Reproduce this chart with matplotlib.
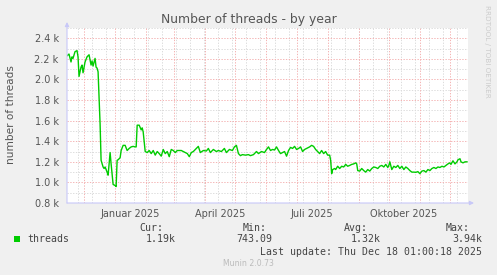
import matplotlib
matplotlib.use("Agg")
import matplotlib.pyplot as plt
import pandas as pd
import numpy as np

# ---------------- data ----------------
start_date = "2024-11-14"
end_date = "2025-12-19"
day_offsets = [0, 2, 4, 5, 6, 8, 10, 11, 12, 14, 15, 16, 18, 20, 22, 24, 25, 26, 28, 29,
               30, 31, 33, 34, 36, 37, 38, 40, 41, 42, 43, 44, 45, 46, 48, 49, 50, 51, 53, 54,
               56, 58, 60, 62, 64, 66, 68, 69, 70, 72, 74, 75, 76, 78, 80, 82, 84, 86, 88, 90,
               92, 94, 96, 98, 100, 102, 104, 106, 108, 110, 112, 114, 116, 118, 120, 122, 124, 126, 128, 131,
               133, 136, 139, 141, 143, 146, 149, 151, 154, 157, 159, 162, 165, 167, 169, 171, 173, 175, 178, 181,
               183, 186, 189, 191, 194, 197, 199, 201, 203, 205, 207, 209, 211, 213, 215, 217, 219, 221, 223, 225,
               227, 229, 231, 233, 235, 237, 239, 242, 244, 246, 248, 250, 252, 254, 256, 258, 260, 262, 263, 264,
               265, 267, 268, 270, 272, 274, 276, 278, 280, 282, 284, 286, 288, 289, 290, 292, 294, 296, 298, 300,
               302, 304, 306, 308, 310, 312, 314, 316, 318, 320, 321, 322, 324, 326, 328, 330, 332, 334, 336, 338,
               340, 342, 344, 346, 348, 350, 352, 354, 356, 358, 360, 362, 364, 366, 368, 370, 372, 374, 376, 378,
               380, 382, 383, 385, 387, 389, 390, 392, 393, 395, 397, 399]
threads_k = [2.23, 2.247, 2.17, 2.22, 2.205, 2.27, 2.28, 2.22, 2.03, 2.12, 2.14, 2.065, 2.17, 2.22, 2.24, 2.14, 2.18, 2.13, 2.205, 2.12,
             2.11, 2.075, 1.57, 1.215, 1.15, 1.135, 1.15, 1.10, 1.07, 1.18, 1.29, 1.18, 1.085, 0.98, 0.97, 0.96, 1.215, 1.22, 1.24, 1.31,
             1.36, 1.36, 1.31, 1.33, 1.345, 1.35, 1.345, 1.345, 1.556, 1.556, 1.51, 1.53, 1.49, 1.30, 1.29, 1.31, 1.28, 1.31, 1.265, 1.30,
             1.28, 1.255, 1.32, 1.28, 1.30, 1.25, 1.32, 1.31, 1.29, 1.31, 1.31, 1.31, 1.30, 1.29, 1.28, 1.25, 1.29, 1.30, 1.32, 1.35,
             1.29, 1.31, 1.305, 1.33, 1.29, 1.32, 1.30, 1.31, 1.30, 1.33, 1.29, 1.32, 1.31, 1.345, 1.36, 1.28, 1.26, 1.27, 1.265, 1.27,
             1.26, 1.27, 1.30, 1.28, 1.30, 1.29, 1.32, 1.345, 1.31, 1.32, 1.315, 1.345, 1.31, 1.28, 1.29, 1.30, 1.255, 1.31, 1.34, 1.33,
             1.35, 1.32, 1.33, 1.345, 1.30, 1.32, 1.33, 1.345, 1.36, 1.35, 1.32, 1.30, 1.28, 1.31, 1.28, 1.30, 1.265, 1.265, 1.215, 1.085,
             1.125, 1.135, 1.125, 1.157, 1.135, 1.157, 1.15, 1.175, 1.157, 1.165, 1.175, 1.18, 1.19, 1.18, 1.115, 1.11, 1.135, 1.115, 1.10, 1.125,
             1.11, 1.135, 1.15, 1.145, 1.135, 1.157, 1.165, 1.15, 1.175, 1.145, 1.165, 1.20, 1.125, 1.157, 1.145, 1.165, 1.135, 1.157, 1.125, 1.15,
             1.135, 1.115, 1.10, 1.10, 1.098, 1.105, 1.085, 1.11, 1.115, 1.10, 1.125, 1.115, 1.135, 1.145, 1.135, 1.15, 1.145, 1.157, 1.15, 1.165,
             1.18, 1.19, 1.175, 1.21, 1.18, 1.20, 1.22, 1.23, 1.20, 1.19, 1.20, 1.20]
xtick_dates = ["2025-01-16", "2025-04-16", "2025-07-16", "2025-10-16"]
xtick_labels = ["Januar 2025", "April 2025", "Juli 2025", "Oktober 2025"]
ytick_values = [0.8, 1.0, 1.2, 1.4, 1.6, 1.8, 2.0, 2.2, 2.4]
ytick_labels = ["0.8 k", "1.0 k", "1.2 k", "1.4 k", "1.6 k", "1.8 k", "2.0 k", "2.2 k", "2.4 k"]
title = "Number of threads - by year"
ylabel = "number of threads"
legend_name = "threads"
stat_names = ["Cur:", "Min:", "Avg:", "Max:"]
stat_values = ["1.19k", "743.09", "1.32k", "3.94k"]
last_update = "Last update: Thu Dec 18 01:00:18 2025"
footer = "Munin 2.0.73"
side_text = "RRDTOOL / TOBI OETIKER"

# ---------------- figure ----------------
W, H = 497, 275
fig = plt.figure(figsize=(W / 100, H / 100), dpi=100, facecolor="#f0f0f0")

def fx(px):
    return px / W

def fy(py):
    return 1 - py / H

L, R, T, B = 67, 468, 28, 203
ax = fig.add_axes([fx(L), fy(B), fx(R - L), (B - T) / H], facecolor="white")

dates = pd.Timestamp(start_date) + pd.to_timedelta(day_offsets, unit="D")
ax.set_xlim(pd.Timestamp(start_date), pd.Timestamp(end_date))
ax.set_ylim(0.8, 2.5)

minor_col = "#dcdcdc"
major_col = "#f4b4b4"
dot = (0, (1.3, 1.5))

for v in np.arange(0.9, 2.51, 0.2):
    ax.axhline(v, color=minor_col, lw=0.72, ls=dot, zorder=1)
for v in ytick_values:
    ax.axhline(v, color=major_col, lw=0.72, ls=dot, zorder=1.5)
for d in pd.date_range("2024-11-25", end_date, freq="14D"):
    ax.axvline(d, color=minor_col, lw=0.72, ls=dot, zorder=1)
for d in pd.date_range("2024-12-01", end_date, freq="MS"):
    ax.axvline(d, color=major_col, lw=0.72, ls=dot, zorder=1.5)

ax.plot(dates, threads_k, color="#00cc00", lw=1.0, zorder=3, solid_joinstyle="round")

for s in ax.spines.values():
    s.set_visible(False)

ax.set_xticks(pd.to_datetime(xtick_dates))
ax.set_xticklabels(xtick_labels)
ax.set_yticks(ytick_values)
ax.set_yticklabels(ytick_labels)
ax.tick_params(axis="both", length=0, labelsize=7, labelcolor="#555555")
ax.tick_params(axis="x", pad=4)
ax.tick_params(axis="y", pad=6)

axis_col = "#c8c8f8"
arrow = dict(arrowstyle="-|>", color=axis_col, lw=0.8, mutation_scale=6, shrinkA=0, shrinkB=0)
ax.annotate("", xy=(R + 6, H - B), xytext=(L, H - B), xycoords="figure pixels",
            textcoords="figure pixels", annotation_clip=False, arrowprops=arrow)
ax.annotate("", xy=(L, H - 22), xytext=(L, H - B), xycoords="figure pixels",
            textcoords="figure pixels", annotation_clip=False, arrowprops=arrow)

fig.text(fx(249), fy(19), title, ha="center", va="center", fontsize=8.9, color="#555555")
fig.text(fx(11), fy(115), ylabel, ha="center", va="center", rotation=90, fontsize=7.6, color="#555555")
fig.text(fx(487), fy(5), side_text, ha="center", va="top", rotation=270, fontsize=5.2, color="#cccccc")

mono = "DejaVu Sans Mono"
fs = 7.1
lc = "#444444"
fig.patches.append(plt.Rectangle((fx(14), fy(242)), fx(6), 6 / H, transform=fig.transFigure,
                                 facecolor="#00cc00", edgecolor="none"))
fig.text(fx(27), fy(239.5), legend_name, family=mono, fontsize=fs, color=lc, va="center", ha="left")
name_right = [163.5, 266.7, 368.3, 470]
val_right = [175.7, 272.7, 380.7, 482.3]
for nm, vl, nr, vr in zip(stat_names, stat_values, name_right, val_right):
    fig.text(fx(nr), fy(228), nm, family=mono, fontsize=fs, color=lc, va="center", ha="right")
    fig.text(fx(vr), fy(239.5), vl, family=mono, fontsize=fs, color=lc, va="center", ha="right")
fig.text(fx(482.3), fy(251.7), last_update, family=mono, fontsize=fs, color=lc, va="center", ha="right")
fig.text(fx(248), fy(264), footer, fontsize=5.6, color="#bbbbbb", va="center", ha="center")

fig.savefig("out.png", dpi=100, facecolor=fig.get_facecolor())
